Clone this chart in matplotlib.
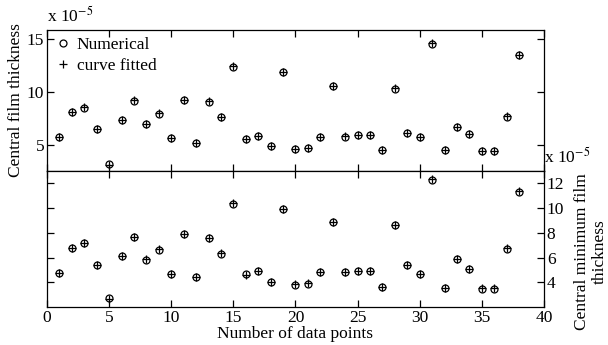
import numpy as np
import matplotlib
matplotlib.use("Agg")
import matplotlib.pyplot as plt

plt.rcParams['font.family'] = ['Liberation Serif', 'DejaVu Serif']
plt.rcParams['mathtext.fontset'] = 'stix'

# data, in units of 1e-5
points = np.arange(1, 39)
film_num = [5.79, 8.10, 8.56, 6.56, 3.25, 7.35, 9.22, 7.06, 8.00, 5.66,
            9.25, 5.25, 9.12, 7.63, 12.40, 5.63, 5.88, 4.94, 11.88, 4.66,
            4.72, 5.79, 10.60, 5.84, 5.94, 5.94, 4.56, 10.34, 6.19, 5.79,
            14.56, 4.56, 6.75, 6.06, 4.47, 4.47, 7.72, 13.47]
film_fit = [5.79, 8.12, 8.58, 6.54, 3.20, 7.37, 9.24, 7.04, 8.02, 5.68,
            9.27, 5.23, 9.14, 7.65, 12.45, 5.61, 5.90, 4.96, 11.90, 4.68,
            4.74, 5.81, 10.62, 5.86, 5.96, 5.96, 4.54, 10.36, 6.21, 5.81,
            14.60, 4.58, 6.77, 6.08, 4.49, 4.49, 7.74, 13.50]
min_num = [4.77, 6.77, 7.17, 5.41, 2.69, 6.13, 7.68, 5.84, 6.64, 4.66,
           7.89, 4.40, 7.60, 6.32, 10.37, 4.64, 4.88, 4.02, 9.94, 3.81,
           3.89, 4.80, 8.85, 4.80, 4.90, 4.90, 3.65, 8.64, 5.38, 4.66,
           12.29, 3.52, 5.86, 5.04, 3.49, 3.49, 6.72, 11.33]
min_fit = [4.79, 6.79, 7.19, 5.39, 2.67, 6.15, 7.70, 5.86, 6.66, 4.68,
           7.91, 4.42, 7.62, 6.34, 10.40, 4.62, 4.90, 4.00, 9.96, 3.83,
           3.91, 4.82, 8.87, 4.82, 4.92, 4.92, 3.63, 8.66, 5.40, 4.68,
           12.32, 3.54, 5.88, 5.06, 3.51, 3.51, 6.74, 11.36]

fs = 12.5
fig = plt.figure(figsize=(6.08, 3.45), dpi=100)
ax1 = fig.add_axes([0.0773, 0.5043, 0.8174, 0.4087])
ax2 = fig.add_axes([0.0773, 0.1101, 0.8174, 0.3942])

ax1.plot(points, film_num, 'o', mfc='none', mec='k', ms=5, mew=0.9, label='Numerical')
ax1.plot(points, film_fit, '+', color='k', ms=6, mew=0.9, label='curve fitted')
ax2.plot(points, min_num, 'o', mfc='none', mec='k', ms=5, mew=0.9)
ax2.plot(points, min_fit, '+', color='k', ms=6, mew=0.9)

for ax in (ax1, ax2):
    ax.set_xlim(0, 40)
    ax.set_xticks(np.arange(0, 41, 5))
    ax.tick_params(direction='in', length=5, width=0.9, top=True, right=True,
                   labelsize=fs, pad=2)
    for s in ax.spines.values():
        s.set_linewidth(0.9)

ax1.set_ylim(2.6, 15.85)
ax1.set_yticks([5, 10, 15])
ax1.tick_params(labelbottom=False)
ax1.set_ylabel('Central film thickness', fontsize=fs, labelpad=2)
ax1.text(0, 1.03, r'x 10$^{-5}$', transform=ax1.transAxes, fontsize=fs,
         ha='left', va='bottom')
leg = ax1.legend(loc='upper left', frameon=False, fontsize=fs, handletextpad=0.3,
                 handlelength=1.0, borderaxespad=0.1, labelspacing=0.25,
                 borderpad=0.3)

ax2.set_ylim(2, 13)
ax2.set_yticks([4, 6, 8, 10, 12])
ax2.tick_params(labelleft=False, labelright=True)
ax2.set_xlabel('Number of data points', fontsize=fs, labelpad=0)
ax2.text(1.0, 1.03, r'x 10$^{-5}$', transform=ax2.transAxes, fontsize=fs,
         ha='left', va='bottom')
# right-hand label for the lower panel
fig.text(591 / 608, 1 - 252 / 345, 'Central minimum film\nthickness', fontsize=fs,
         rotation=90, ha='center', va='center', multialignment='center')

fig.savefig('out.png', dpi=100)
